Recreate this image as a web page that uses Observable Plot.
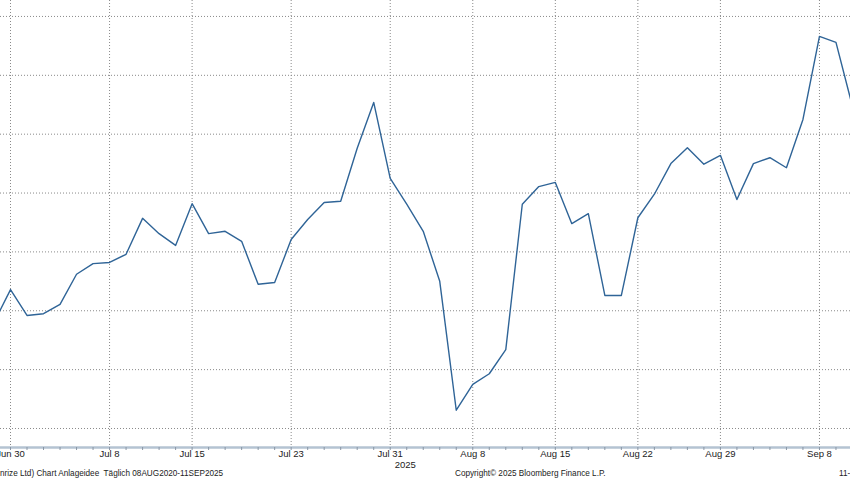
<!DOCTYPE html>
<html><head><meta charset="utf-8">
<script src="https://cdn.jsdelivr.net/npm/d3@7"></script>
<script src="https://cdn.jsdelivr.net/npm/@observablehq/plot@0.6"></script>
<style>
body{margin:0;background:#fff;}
#wrap{position:relative;width:850px;height:480px;overflow:hidden;font-family:"Liberation Sans",Arial,sans-serif;background:#fff;}
.note{position:absolute;top:468px;font-size:8.2px;line-height:11px;color:#222;white-space:pre;}
</style></head><body><div id="wrap"></div>
<script>
// Trading days (Swiss calendar, Aug 1 closed)
const dates = [
 "2025-06-27","2025-06-30","2025-07-01","2025-07-02","2025-07-03","2025-07-04",
 "2025-07-07","2025-07-08","2025-07-09","2025-07-10","2025-07-11",
 "2025-07-14","2025-07-15","2025-07-16","2025-07-17","2025-07-18",
 "2025-07-21","2025-07-22","2025-07-23","2025-07-24","2025-07-25",
 "2025-07-28","2025-07-29","2025-07-30","2025-07-31",
 "2025-08-04","2025-08-05","2025-08-06","2025-08-07","2025-08-08",
 "2025-08-11","2025-08-12","2025-08-13","2025-08-14","2025-08-15",
 "2025-08-18","2025-08-19","2025-08-20","2025-08-21","2025-08-22",
 "2025-08-25","2025-08-26","2025-08-27","2025-08-28","2025-08-29",
 "2025-09-01","2025-09-02","2025-09-03","2025-09-04","2025-09-05",
 "2025-09-08","2025-09-09","2025-09-10"
];
const values = [
 11.80,12.36,11.92,11.95,12.11,12.62,
 12.80,12.82,12.96,13.57,13.31,
 13.11,13.82,13.31,13.35,13.18,
 12.45,12.48,13.21,13.55,13.84,
 13.86,14.76,15.54,14.25,
 13.81,13.35,12.50,10.31,10.75,
 10.93,11.34,13.81,14.11,14.18,
 13.48,13.65,12.26,12.26,13.58,
 13.98,14.50,14.77,14.49,14.64,
 13.89,14.50,14.60,14.43,15.25,
 16.66,16.56,15.47
];
const tickDates = ["2025-06-30","2025-07-08","2025-07-15","2025-07-23","2025-07-31","2025-08-08","2025-08-15","2025-08-22","2025-08-29","2025-09-08"];
const tickLabels = ["Jun 30","Jul 8","Jul 15","Jul 23","Jul 31","Aug 8","Aug 15","Aug 22","Aug 29","Sep 8"];
const gridValues = [10,11,12,13,14,15,16,17];
const yearLabel = {date:"2025-07-31", text:"2025"};
const footerTexts = ["nrize Ltd) Chart Anlageidee  Täglich 08AUG2020-11SEP2025", "Copyright© 2025 Bloomberg Finance L.P.", "11-"];

const base = dates.indexOf("2025-06-30");
const rows = dates.map((d,k)=>({i:k-base, v:values[k]}));
const idx = d => dates.indexOf(d) - base;
const tickIdx = tickDates.map(idx);
const labelOf = new Map(tickIdx.map((t,k)=>[t,tickLabels[k]]));
const minorIdx = dates.map((d,k)=>k-base).filter(t => t >= 0 && t <= 50);
const xDomain = [-0.606, 50.88];
const yDomain = [9.677, 17.271];
const font = "Liberation Sans, Arial, sans-serif";

const chart = Plot.plot({
  width: 850, height: 480,
  marginTop: 0, marginRight: 0, marginLeft: 0, marginBottom: 33,
  style: {fontFamily: font, fontSize: "9.5px", color: "#222", background: "#fff"},
  x: {type: "linear", domain: xDomain, axis: null, label: null},
  y: {domain: yDomain, axis: null, label: null},
  marks: [
    Plot.gridY(gridValues, {stroke: "#8a8a8a", strokeOpacity: 1, strokeDasharray: "1,2", strokeWidth: 1}),
    Plot.gridX(tickIdx, {stroke: "#8a8a8a", strokeOpacity: 1, strokeDasharray: "1,2", strokeWidth: 1}),
    Plot.ruleY([yDomain[0]], {stroke: "#b4c3d2", strokeWidth: 2.5}),
    Plot.axisX(minorIdx, {tickSize: 3, tickFormat: () => "", label: null, stroke: "#8a97a6"}),
    Plot.axisX(tickIdx, {tickSize: 0, tickPadding: 3, label: null, tickFormat: t => labelOf.get(t), fill: "#222", fontSize: 9.5}),
    Plot.text([yearLabel], {x: d => idx(d.date), y: () => yDomain[0], text: "text", dx: 15, dy: 17, fill: "#222", fontSize: 9.5}),
    Plot.line(rows, {x: "i", y: "v", stroke: "#2f6497", strokeWidth: 1.4, clip: true})
  ]
});
const wrap = document.getElementById("wrap");
chart.style.position = "absolute"; chart.style.left = "0"; chart.style.top = "0";
wrap.appendChild(chart);
[455, 839].forEach(()=>{});
const footerX = [0, 455, 839];
footerTexts.forEach((t,k)=>{
  const d = document.createElement("div"); d.className = "note"; d.textContent = t; d.style.left = footerX[k]+"px"; wrap.appendChild(d);
});
</script></body></html>
